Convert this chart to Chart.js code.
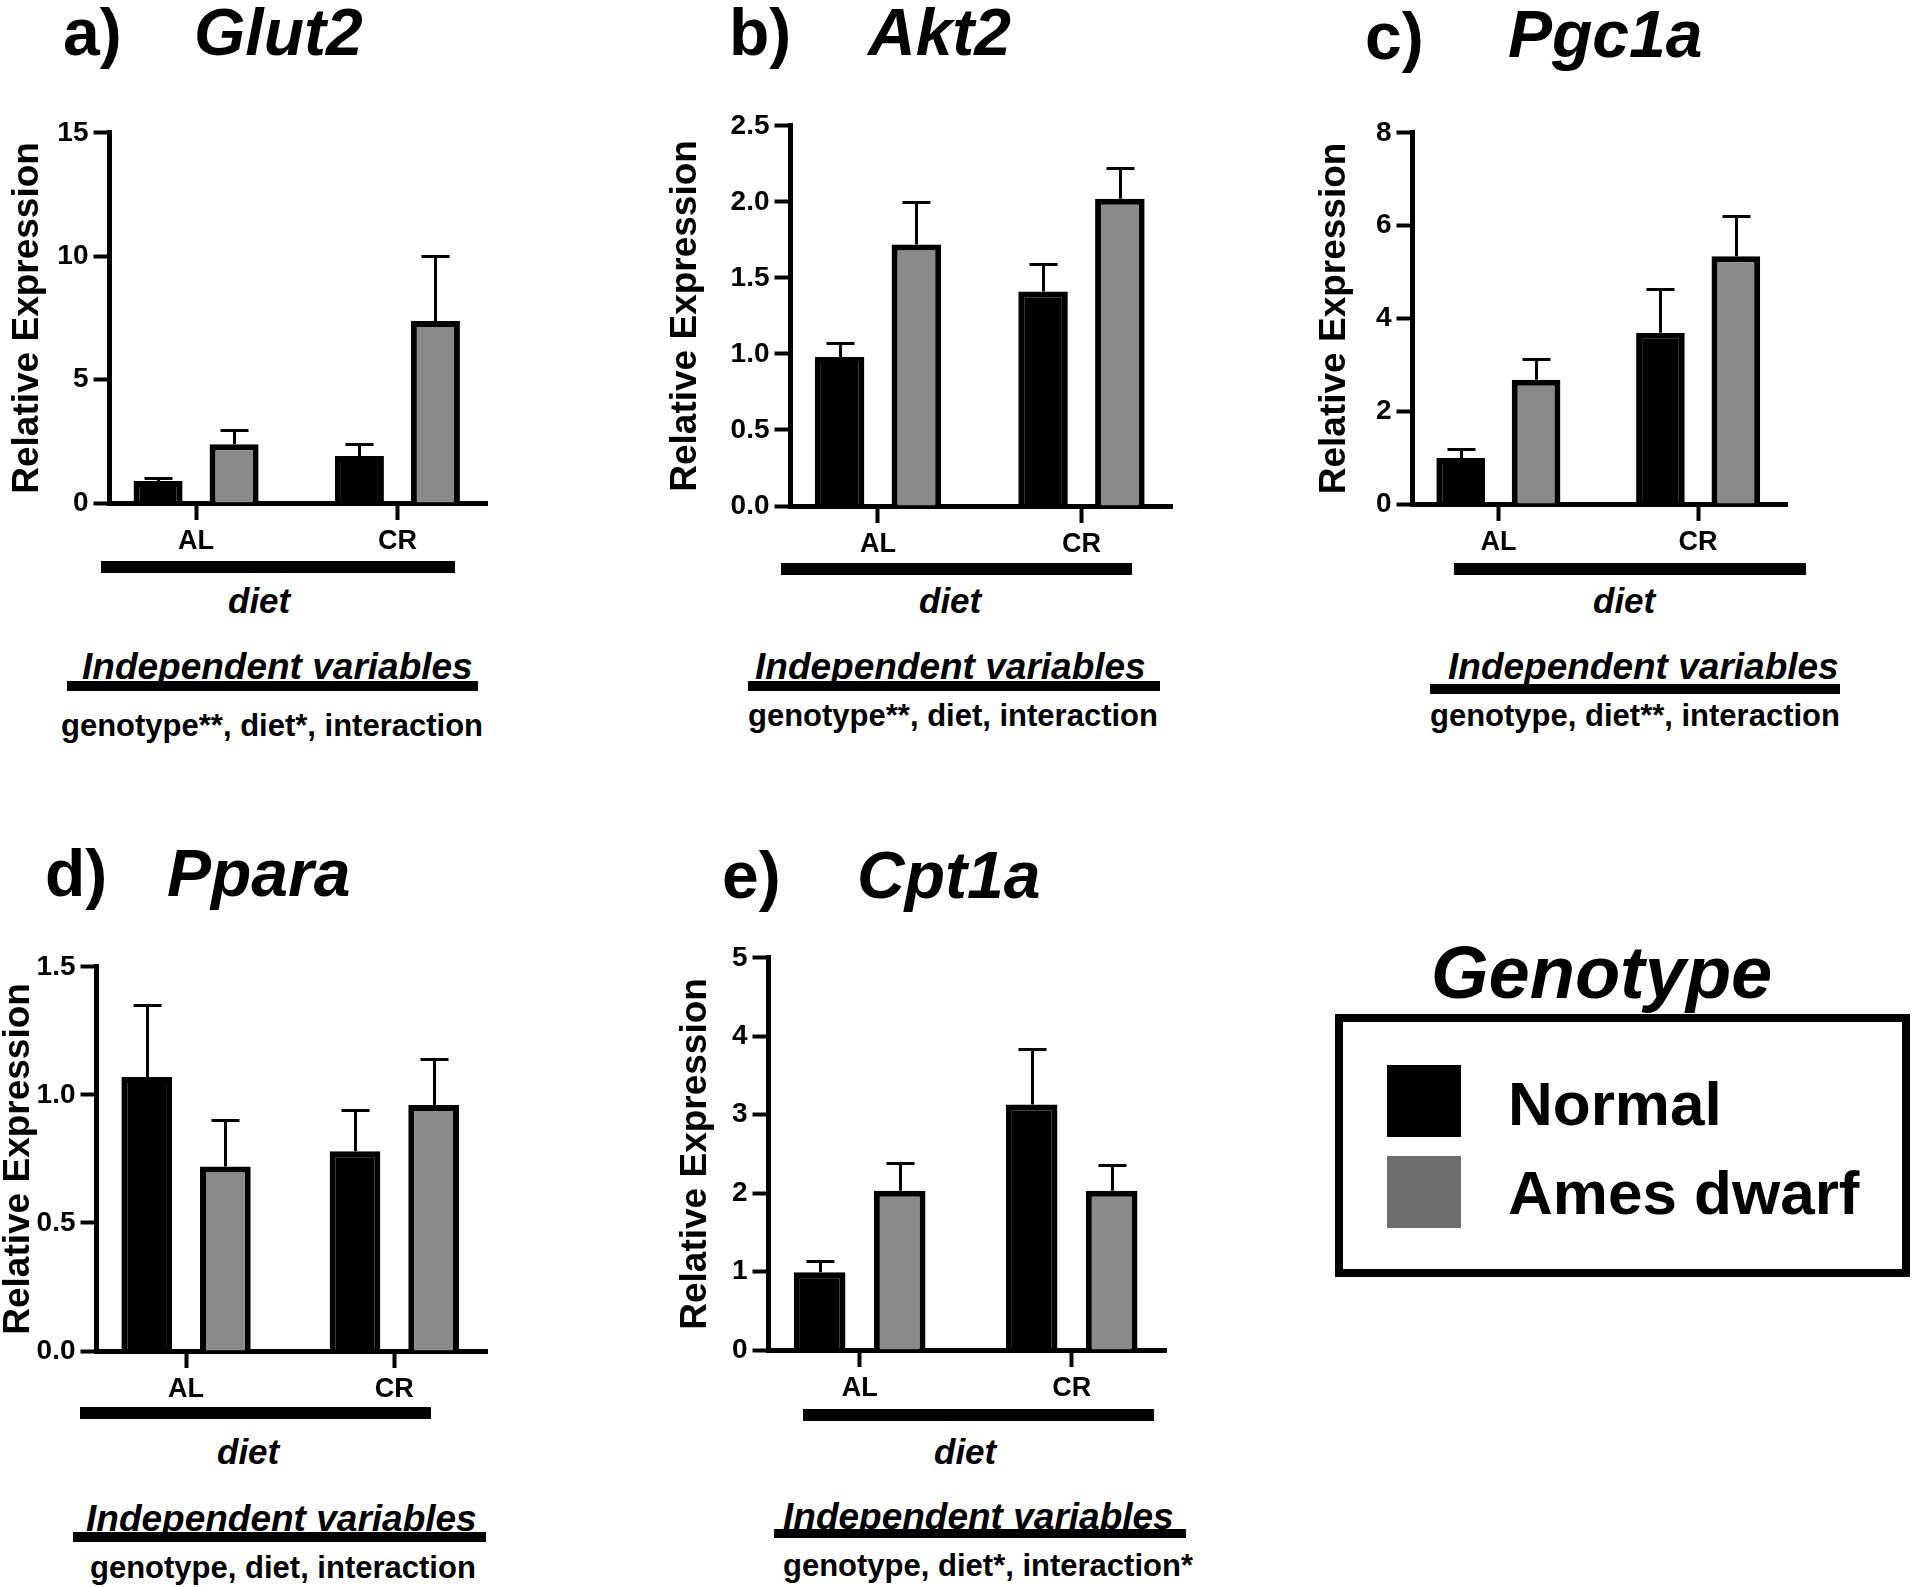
<!DOCTYPE html>
<html>
<head>
<meta charset="utf-8">
<script src="https://cdn.jsdelivr.net/npm/chart.js@4.4.1/dist/chart.umd.min.js"></script>
<style>
html,body{margin:0;padding:0;background:#fff;}
body{position:relative;width:1920px;height:1587px;overflow:hidden;font-family:"Liberation Sans",Arial,sans-serif;color:#000;}
canvas{position:absolute;}
.t{position:absolute;white-space:nowrap;font-weight:bold;line-height:1;}
.i{font-style:italic;}
.rect{position:absolute;background:#000;}
</style>
</head>
<body>
<script>
// categories and series
const diets = ['AL', 'CR'];
const genotypes = ['Normal', 'Ames dwarf'];

const glut2Normal = [0.89, 1.90];
const glut2NormalSem = [0.14, 0.48];
const glut2Ames = [2.38, 7.37];
const glut2AmesSem = [0.56, 2.65];
const glut2Ticks = ['0', '5', '10', '15'];

const akt2Normal = [0.98, 1.41];
const akt2NormalSem = [0.09, 0.18];
const akt2Ames = [1.72, 2.02];
const akt2AmesSem = [0.28, 0.20];
const akt2Ticks = ['0.0', '0.5', '1.0', '1.5', '2.0', '2.5'];

const pgc1aNormal = [0.99, 3.69];
const pgc1aNormalSem = [0.19, 0.94];
const pgc1aAmes = [2.68, 5.34];
const pgc1aAmesSem = [0.45, 0.86];
const pgc1aTicks = ['0', '2', '4', '6', '8'];

const pparaNormal = [1.07, 0.78];
const pparaNormalSem = [0.28, 0.16];
const pparaAmes = [0.72, 0.96];
const pparaAmesSem = [0.18, 0.18];
const pparaTicks = ['0.0', '0.5', '1.0', '1.5'];

const cpt1aNormal = [0.99, 3.13];
const cpt1aNormalSem = [0.15, 0.71];
const cpt1aAmes = [2.03, 2.03];
const cpt1aAmesSem = [0.36, 0.33];
const cpt1aTicks = ['0', '1', '2', '3', '4', '5'];

const panels = [
  {letter:'a)', gene:'Glut2', normal:glut2Normal, normalSem:glut2NormalSem, ames:glut2Ames, amesSem:glut2AmesSem, ticks:glut2Ticks, stats:'genotype**, diet*, interaction'},
  {letter:'b)', gene:'Akt2', normal:akt2Normal, normalSem:akt2NormalSem, ames:akt2Ames, amesSem:akt2AmesSem, ticks:akt2Ticks, stats:'genotype**, diet, interaction'},
  {letter:'c)', gene:'Pgc1a', normal:pgc1aNormal, normalSem:pgc1aNormalSem, ames:pgc1aAmes, amesSem:pgc1aAmesSem, ticks:pgc1aTicks, stats:'genotype, diet**, interaction'},
  {letter:'d)', gene:'Ppara', normal:pparaNormal, normalSem:pparaNormalSem, ames:pparaAmes, amesSem:pparaAmesSem, ticks:pparaTicks, stats:'genotype, diet, interaction'},
  {letter:'e)', gene:'Cpt1a', normal:cpt1aNormal, normalSem:cpt1aNormalSem, ames:cpt1aAmes, amesSem:cpt1aAmesSem, ticks:cpt1aTicks, stats:'genotype, diet*, interaction*'}
];

// where each panel sits on the page (px)
const layout = [
  {L:109, R:486, top:131, zero:503, titleCx:27, letterX:63, geneX:194, letterBase:55, geneBase:55, dietBar:[101,455,561,573], dietCx:259, dietBase:613, indX:82, indBase:679, indLine:[67,478,681,691], statX:61, statBase:736},
  {L:790, R:1171, top:124, zero:506, titleCx:685, letterX:729, geneX:868, letterBase:55, geneBase:55, dietBar:[781,1132,563,575], dietCx:950, dietBase:613, indX:755, indBase:679, indLine:[748,1160,681,691], statX:748, statBase:726},
  {L:1412, R:1786, top:131, zero:504, titleCx:1334, letterX:1365, geneX:1508, letterBase:59, geneBase:57, dietBar:[1454,1806,563,575], dietCx:1624, dietBase:613, indX:1448, indBase:679, indLine:[1430,1840,684,694], statX:1430, statBase:726},
  {L:96, R:486, top:965, zero:1351, titleCx:18, letterX:45, geneX:167, letterBase:896, geneBase:896, dietBar:[80,431,1407,1419], dietCx:248, dietBase:1464, indX:86, indBase:1531, indLine:[73,486,1532,1542], statX:90, statBase:1578},
  {L:768, R:1165, top:956, zero:1350, titleCx:695, letterX:722, geneX:857, letterBase:898, geneBase:898, dietBar:[803,1154,1409,1421], dietCx:965, dietBase:1464, indX:783, indBase:1529, indLine:[774,1186,1529,1538], statX:783, statBase:1576}
];

const NORMAL_FILL = '#000000';
const AMES_FILL = '#8a8a8a';
const LEGEND_GREY = '#6f6f6f';

function addText(str, x, base, size, opts = {}) {
  const el = document.createElement('div');
  el.className = 't' + (opts.italic ? ' i' : '');
  el.style.fontSize = size + 'px';
  el.textContent = str;
  const m = document.createElement('span');
  m.style.cssText = 'display:inline-block;width:0;height:0;vertical-align:baseline';
  el.appendChild(m);
  document.body.appendChild(el);
  const b = m.offsetTop;
  el.style.top = (base - b) + 'px';
  el.style.left = (opts.center ? x - el.offsetWidth / 2 : x) + 'px';
  return el;
}

function addRect(x1, x2, y1, y2, color) {
  const r = document.createElement('div');
  r.className = 'rect';
  r.style.left = x1 + 'px';
  r.style.top = y1 + 'px';
  r.style.width = (x2 - x1) + 'px';
  r.style.height = (y2 - y1) + 'px';
  if (color) r.style.background = color;
  document.body.appendChild(r);
  return r;
}

// one-sided SEM bars with a cap
const errorBars = {
  id: 'errorBars',
  afterDatasetsDraw(chart) {
    const ctx = chart.ctx, ys = chart.scales.y;
    ctx.save();
    ctx.strokeStyle = '#000';
    ctx.lineWidth = 3;
    chart.data.datasets.forEach((ds, di) => {
      chart.getDatasetMeta(di).data.forEach((bar, i) => {
        const v = ds.data[i].y;
        const yTop = Math.round(ys.getPixelForValue(v + ds.sem[i])) + 0.5;
        const x = Math.round(bar.x) + 0.5;
        ctx.beginPath();
        ctx.moveTo(x, bar.y);
        ctx.lineTo(x, yTop);
        ctx.moveTo(x - 14, yTop);
        ctx.lineTo(x + 14, yTop);
        ctx.stroke();
      });
    });
    ctx.restore();
  }
};

Chart.defaults.color = '#000';

panels.forEach((p, k) => {
  const lo = layout[k];
  const padTop = 20, xh = 62;
  const left = lo.titleCx - 18.5;
  const yw = lo.L - left;

  const cv = document.createElement('canvas');
  cv.width = Math.round(lo.R - left + 4);
  cv.height = padTop + (lo.zero - lo.top) + xh;
  cv.style.left = left + 'px';
  cv.style.top = (lo.top - padTop) + 'px';
  document.body.appendChild(cv);

  new Chart(cv, {
    type: 'bar',
    data: {
      datasets: [
        {label: genotypes[0], data: p.normal.map((v, i) => ({x: i, y: v})), sem: p.normalSem,
         backgroundColor: NORMAL_FILL, borderColor: '#000', borderWidth: 6},
        {label: genotypes[1], data: p.ames.map((v, i) => ({x: i, y: v})), sem: p.amesSem,
         backgroundColor: AMES_FILL, borderColor: '#000', borderWidth: 6}
      ]
    },
    options: {
      responsive: false,
      animation: false,
      devicePixelRatio: 1,
      layout: {padding: {top: padTop, right: 4, left: 0, bottom: 0}},
      datasets: {bar: {categoryPercentage: 0.755, barPercentage: 0.645}},
      plugins: {legend: {display: false}, tooltip: {enabled: false}},
      scales: {
        x: {
          type: 'linear', min: -0.43, max: 1.445, offset: false,
          afterBuildTicks: s => { s.ticks = diets.map((d, i) => ({value: i})); },
          afterFit: s => { s.height = xh; },
          ticks: {callback: (v, i) => diets[i], font: {family: 'Liberation Sans', weight: 'bold', size: 27},
                  color: '#000', padding: 5, maxRotation: 0, autoSkip: false},
          grid: {offset: false, drawOnChartArea: false, drawTicks: true, tickLength: 17, tickWidth: 4, tickColor: '#000'},
          border: {display: true, color: '#000', width: 5}
        },
        y: {
          min: 0, max: parseFloat(p.ticks[p.ticks.length - 1]),
          afterBuildTicks: s => { s.ticks = p.ticks.map(t => ({value: parseFloat(t)})); },
          afterFit: s => { s.width = yw; },
          ticks: {callback: (v, i) => p.ticks[i], font: {family: 'Liberation Sans', weight: 'bold', size: 28},
                  color: '#000', padding: 5},
          grid: {drawOnChartArea: false, drawTicks: true, tickLength: 16, tickWidth: 4, tickColor: '#000'},
          border: {display: true, color: '#000', width: 5},
          title: {display: true, text: 'Relative Expression', color: '#000', padding: 0,
                  font: {family: 'Liberation Sans', weight: 'bold', size: 37, lineHeight: 1}}
        }
      }
    },
    plugins: [errorBars]
  });

  // headings and annotations
  addText(p.letter, lo.letterX, lo.letterBase, 66);
  addText(p.gene, lo.geneX, lo.geneBase, 66, {italic: true});
  addRect(lo.dietBar[0], lo.dietBar[1], lo.dietBar[2], lo.dietBar[3]);
  addText('diet', lo.dietCx, lo.dietBase, 35, {italic: true, center: true});
  addText('Independent variables', lo.indX, lo.indBase, 37, {italic: true});
  addRect(lo.indLine[0], lo.indLine[1], lo.indLine[2], lo.indLine[3]);
  addText(p.stats, lo.statX, lo.statBase, 31);
});

// genotype legend
addText('Genotype', 1431, 998, 74, {italic: true});
const box = document.createElement('div');
box.style.cssText = 'position:absolute;left:1335px;top:1014px;width:575px;height:263px;border:8px solid #000;box-sizing:border-box;';
document.body.appendChild(box);
const swatchColors = [NORMAL_FILL, LEGEND_GREY];
const swatchTops = [1065, 1156];
const labelBases = [1125, 1214];
genotypes.forEach((g, i) => {
  addRect(1387, 1461, swatchTops[i], swatchTops[i] + 72, swatchColors[i]);
  addText(g, 1508, labelBases[i], 62);
});
</script>
</body>
</html>
